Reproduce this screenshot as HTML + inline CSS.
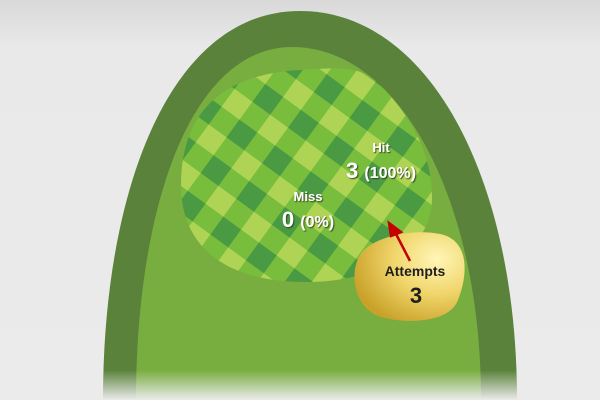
<!DOCTYPE html>
<html><head><meta charset="utf-8"><style>
html,body{margin:0;padding:0;width:600px;height:400px;overflow:hidden;background:#e9e9e9}
svg{display:block}
text{font-family:"Liberation Sans",Arial,sans-serif;font-weight:bold}
</style></head><body>
<svg width="600" height="400" viewBox="0 0 600 400">
<defs>
<linearGradient id="bg" x1="0" y1="0" x2="0" y2="1"><stop offset="0" stop-color="#d9d9d9"/><stop offset="0.12" stop-color="#e9e9e9"/><stop offset="1" stop-color="#ebebeb"/></linearGradient>
<linearGradient id="fade" x1="0" y1="0" x2="0" y2="1"><stop offset="0" stop-color="#ebebeb" stop-opacity="0"/><stop offset="1" stop-color="#ebebeb" stop-opacity="1"/></linearGradient>
<pattern id="plaid" width="44" height="44" patternUnits="userSpaceOnUse" patternTransform="rotate(36)">
<rect width="44" height="44" fill="#79bd3d"/>
<rect x="0" y="0" width="22" height="22" fill="#4a9a44"/>
<rect x="22" y="22" width="22" height="22" fill="#afd455"/>
</pattern>
<radialGradient id="gold" cx="0.75" cy="0.3" r="0.8"><stop offset="0" stop-color="#fff6b8"/><stop offset="0.5" stop-color="#f0d56a"/><stop offset="1" stop-color="#c9a22a"/></radialGradient>
<filter id="sh"><feDropShadow dx="1" dy="1" stdDeviation="0.6" flood-color="#2a3a10" flood-opacity="0.9"/></filter>
</defs>
<rect width="600" height="400" fill="url(#bg)"/>
<path d="M103,400 C103,190 170,11 300,11 C430,11 517,180 517,400 Z" fill="#5a823a"/>
<path d="M136,400 C136,210 190,47 292,47 C400,47 481,200 481,400 Z" fill="#78ad40"/>
<path d="M181,185 C181,110 225,74 300,70 C345,67 360,66 380,85 C415,120 433,160 432,200 C430,250 380,282 305,282 C230,282 181,250 181,185 Z" fill="url(#plaid)"/>
<path d="M360,255 C370,238 410,228 440,234 C470,240 468,275 458,300 C450,322 410,324 385,318 C355,312 348,275 360,255 Z" fill="url(#gold)"/>
<g id="labels"></g>
<rect x="0" y="370" width="600" height="30" fill="url(#fade)"/>
</svg>
<script>
const categories = ["Hit","Miss"];
const counts = [3, 0];
const attempts = [3];
const g = document.getElementById('labels');
const NS = 'http://www.w3.org/2000/svg';
function txt(x,y,s,size,fill,name,filt){
  const t=document.createElementNS(NS,'text');
  t.setAttribute('x',x);t.setAttribute('y',y);t.setAttribute('font-size',size);
  t.setAttribute('fill',fill);t.setAttribute('text-anchor','middle');
  if(filt)t.setAttribute('filter','url(#sh)');
  t.textContent=s;
  
  
  g.appendChild(t);return t;
}
const total = attempts[0];
const pos = [[381,152],[308,201]];
categories.forEach((c,i)=>{
  const [x,y]=pos[i];
  txt(x,y,c,13,'#fff',c.toLowerCase()+'-label',true);
  const pct = total? Math.round(counts[i]/total*100):0;
  const t=txt(x,y+26,'',22,'#fff',c.toLowerCase()+'-value',true);
  const a=document.createElementNS(NS,'tspan');a.textContent=counts[i]+' ';
  const b=document.createElementNS(NS,'tspan');b.setAttribute('font-size','16');b.textContent='('+pct+'%)';
  t.appendChild(a);t.appendChild(b);
});
const arrow=document.createElementNS(NS,'path');
arrow.setAttribute('d','M410,261 L395,232 M389,223 L401,232 L391,236 Z');
arrow.setAttribute('stroke','#c40000');arrow.setAttribute('stroke-width','2.5');arrow.setAttribute('fill','#c40000');


g.appendChild(arrow);
txt(415,276,'Attempts',14,'#1e1e1e','attempts-label',false);
txt(416,303,String(attempts[0]),22,'#1e1e1e','attempts-value',false);
</script>
</body></html>
